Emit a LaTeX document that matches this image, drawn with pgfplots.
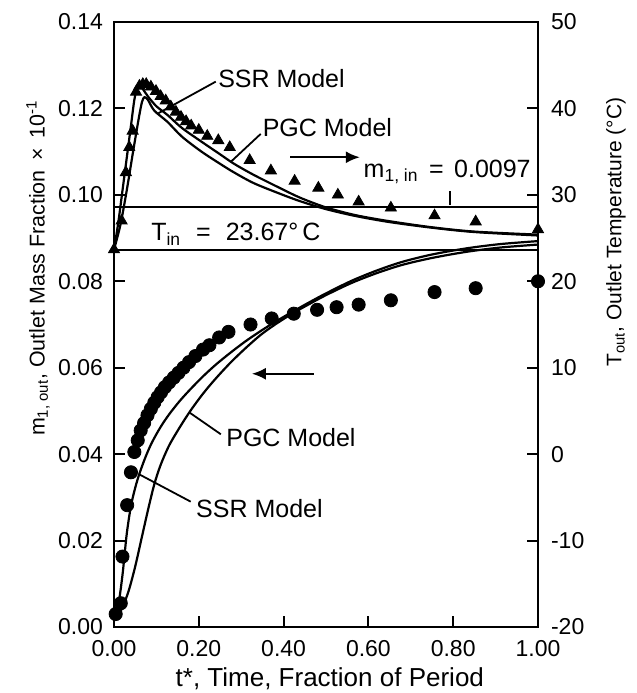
\documentclass[border=0pt]{standalone}
\usepackage{pgfplots}
\pgfplotsset{compat=1.18}
\usepackage{fontspec}
\setmainfont{Liberation Sans}
\usetikzlibrary{arrows.meta}

\begin{document}
\begin{tikzpicture}
\useasboundingbox (-57pt,-33pt) rectangle (261.5pt,313.5pt);
% ---------------- left axis: mass fraction ----------------
\begin{axis}[
  at={(0,0)}, anchor=south west,
  scale only axis, width=212pt, height=302.5pt,
  xmin=0, xmax=1, ymin=0, ymax=0.14,
  clip=false,
  tick align=inside,
  xtick pos=bottom, ytick pos=left,
  xtick={0,0.2,0.4,0.6,0.8,1.0},
  xticklabels={0.00,0.20,0.40,0.60,0.80,1.00},
  ytick={0,0.02,0.04,0.06,0.08,0.10,0.12,0.14},
  yticklabels={0.00,0.02,0.04,0.06,0.08,0.10,0.12,0.14},
  major tick length=5.5pt,
  tick style={line width=1pt, black},
  axis line style={line width=1.2pt},
  tick label style={font=\fontsize{11.5}{13}\selectfont},
  yticklabel style={xshift=-2pt},
  xticklabel style={yshift=-3pt},
  xlabel={t*, Time, Fraction of Period},
  xlabel style={at={(axis description cs:0.509,-0.086)}, anchor=center, font=\fontsize{13}{15}\selectfont},
  ylabel={m\textsubscript{1, out}, Outlet Mass Fraction \,×\, 10\textsuperscript{-1}},
  ylabel style={at={(axis description cs:-0.179,0.593)}, anchor=center, font=\fontsize{10.7}{13}\selectfont},
]
% inlet mass fraction line
\addplot[black, line width=1pt] coordinates {(0,0.0971) (1,0.0971)};
% SSR model (mass)
\addplot[black, line width=1.1pt, smooth, tension=0.5] coordinates {
(0.000,0.0020) (0.010,0.0050) (0.020,0.0120) (0.030,0.0215) (0.040,0.0280)
(0.050,0.0322) (0.060,0.0355) (0.075,0.0395) (0.090,0.0428) (0.110,0.0463)
(0.130,0.0492) (0.155,0.0523) (0.180,0.0550) (0.210,0.0580) (0.240,0.0607)
(0.275,0.0635) (0.310,0.0661) (0.346,0.0685) (0.380,0.0706) (0.420,0.0729)
(0.460,0.0751) (0.500,0.0772) (0.560,0.0801) (0.620,0.0825) (0.680,0.0845)
(0.750,0.0862) (0.830,0.0876) (0.910,0.0886) (1.000,0.0893)};
% PGC model (mass)
\addplot[black, line width=1.1pt, smooth, tension=0.5] coordinates {
(0.005,0.0020) (0.020,0.0045) (0.035,0.0085) (0.050,0.0140) (0.065,0.0205)
(0.080,0.0270) (0.095,0.0330) (0.110,0.0375) (0.130,0.0420) (0.155,0.0462)
(0.180,0.0500) (0.210,0.0540) (0.240,0.0575) (0.275,0.0612) (0.310,0.0645)
(0.346,0.0676) (0.380,0.0700) (0.420,0.0725) (0.460,0.0747) (0.500,0.0768)
(0.560,0.0796) (0.620,0.0819) (0.680,0.0838) (0.750,0.0854) (0.830,0.0868)
(0.910,0.0878) (1.000,0.0885)};
% measured outlet mass fraction
\addplot[only marks, mark=*, mark size=3.3pt, black] coordinates {
(0.004,0.0030) (0.016,0.0055) (0.020,0.0163) (0.031,0.0282) (0.040,0.0358)
(0.048,0.0405) (0.056,0.0432) (0.063,0.0455) (0.071,0.0472) (0.079,0.0490)
(0.087,0.0505) (0.095,0.0519) (0.103,0.0532) (0.111,0.0543) (0.120,0.0555)
(0.130,0.0566) (0.141,0.0577) (0.152,0.0588) (0.164,0.0600) (0.177,0.0613)
(0.192,0.0627) (0.210,0.0642) (0.225,0.0652) (0.248,0.0670) (0.270,0.0683)
(0.322,0.0700) (0.372,0.0714) (0.424,0.0725) (0.479,0.0734) (0.525,0.0740)
(0.577,0.0746) (0.653,0.0756) (0.756,0.0775) (0.853,0.0784) (1.000,0.0800)};
% annotations
\begin{scope}[font=\fontsize{12.5}{14}\selectfont]
\node[anchor=west, inner sep=0pt] at (axis cs:0.245,0.1269) {SSR Model};
\draw[line width=0.9pt] (axis cs:0.240,0.1262) -- (axis cs:0.103,0.1188);
\node[anchor=west, inner sep=0pt] at (axis cs:0.350,0.1155) {PGC Model};
\draw[line width=0.9pt] (axis cs:0.346,0.1141) -- (axis cs:0.275,0.1076);
\node[anchor=west, inner sep=0pt] at (axis cs:0.588,0.1053) {m\textsubscript{1, in}\hspace{0.42em}=\hspace{0.42em}0.0097};
\draw[line width=0.9pt] (axis cs:0.793,0.0976) -- (axis cs:0.793,0.1010);
\node[anchor=west, inner sep=0pt] at (axis cs:0.087,0.0909) {T\textsubscript{in}\hspace{0.6em}=\hspace{0.6em}23.67°\,C};
\node[anchor=west, inner sep=0pt] at (axis cs:0.264,0.0438) {PGC Model};
\draw[line width=0.9pt] (axis cs:0.252,0.0446) -- (axis cs:0.177,0.0497);
\node[anchor=west, inner sep=0pt] at (axis cs:0.193,0.0275) {SSR Model};
\draw[line width=0.9pt] (axis cs:0.181,0.0290) -- (axis cs:0.060,0.0353);
\draw[line width=1.2pt, -{Latex[length=7pt,width=6pt]}] (axis cs:0.416,0.1087) -- (axis cs:0.580,0.1087);
\draw[line width=1.2pt, -{Latex[length=7pt,width=6pt]}] (axis cs:0.471,0.0586) -- (axis cs:0.325,0.0586);
\end{scope}
\end{axis}
% ---------------- right axis: temperature ----------------
\begin{axis}[
  at={(0,0)}, anchor=south west,
  scale only axis, width=212pt, height=302.5pt,
  xmin=0, xmax=1, ymin=-20, ymax=50,
  clip=false,
  axis x line=none, axis y line*=right,
  tick align=inside,
  ytick={-20,-10,0,10,20,30,40,50},
  yticklabels={-20,-10,0,10,20,30,40,50},
  major tick length=5.5pt,
  tick style={line width=1pt, black},
  axis line style={line width=1.2pt},
  tick label style={font=\fontsize{11.5}{13}\selectfont},
  yticklabel style={xshift=3pt},
]
% inlet temperature line
\addplot[black, line width=1pt] coordinates {(0,23.67) (1,23.67)};
% SSR model (temperature)
\addplot[black, line width=1.1pt, smooth, tension=0.5] coordinates {
(0.000,23.67) (0.010,26.75) (0.020,30.5) (0.030,34.25) (0.040,38.0)
(0.048,41.0) (0.055,42.5) (0.060,42.7) (0.068,42.25) (0.080,41.4)
(0.100,40.25) (0.126,39.25) (0.160,37.75) (0.205,36.2) (0.250,34.7)
(0.283,33.6) (0.330,32.3) (0.393,30.75) (0.440,29.65) (0.500,28.55)
(0.570,27.65) (0.650,26.95) (0.750,26.25) (0.850,25.75) (1.000,25.4)};
% PGC model (temperature)
\addplot[black, line width=1.1pt, smooth, tension=0.5] coordinates {
(0.000,23.67) (0.015,26.5) (0.030,30.5) (0.045,35.0) (0.058,38.75)
(0.066,40.75) (0.072,41.3) (0.080,41.0) (0.095,39.75) (0.126,38.45)
(0.160,36.75) (0.205,35.05) (0.250,33.6) (0.283,32.6) (0.330,31.35)
(0.393,30.1) (0.440,29.25) (0.500,28.35) (0.570,27.55) (0.650,26.85)
(0.750,26.2) (0.850,25.7) (1.000,25.3)};
% measured outlet temperature
\addplot[only marks, mark=triangle*, mark size=3.2pt, black] coordinates {
(0.000,23.67) (0.018,27.0) (0.028,32.6) (0.036,35.5) (0.044,37.4)
(0.052,41.9) (0.060,42.6) (0.068,42.8) (0.076,42.8) (0.087,42.5)
(0.099,42.0) (0.110,41.4) (0.122,40.9) (0.134,40.2) (0.146,39.6)
(0.158,39.0) (0.170,38.5) (0.182,38.0) (0.200,37.5) (0.220,36.8)
(0.246,36.3) (0.273,35.5) (0.320,34.0) (0.370,32.8) (0.426,31.6)
(0.482,30.8) (0.528,30.0) (0.577,29.2) (0.653,28.5) (0.756,27.6)
(0.853,26.9) (1.000,26.0)};
\end{axis}
\node[rotate=90, anchor=center, font=\fontsize{10.5}{13}\selectfont] at (251pt,197.5pt) {T\textsubscript{out}, Outlet Temperature (°C)};
\end{tikzpicture}
\end{document}
